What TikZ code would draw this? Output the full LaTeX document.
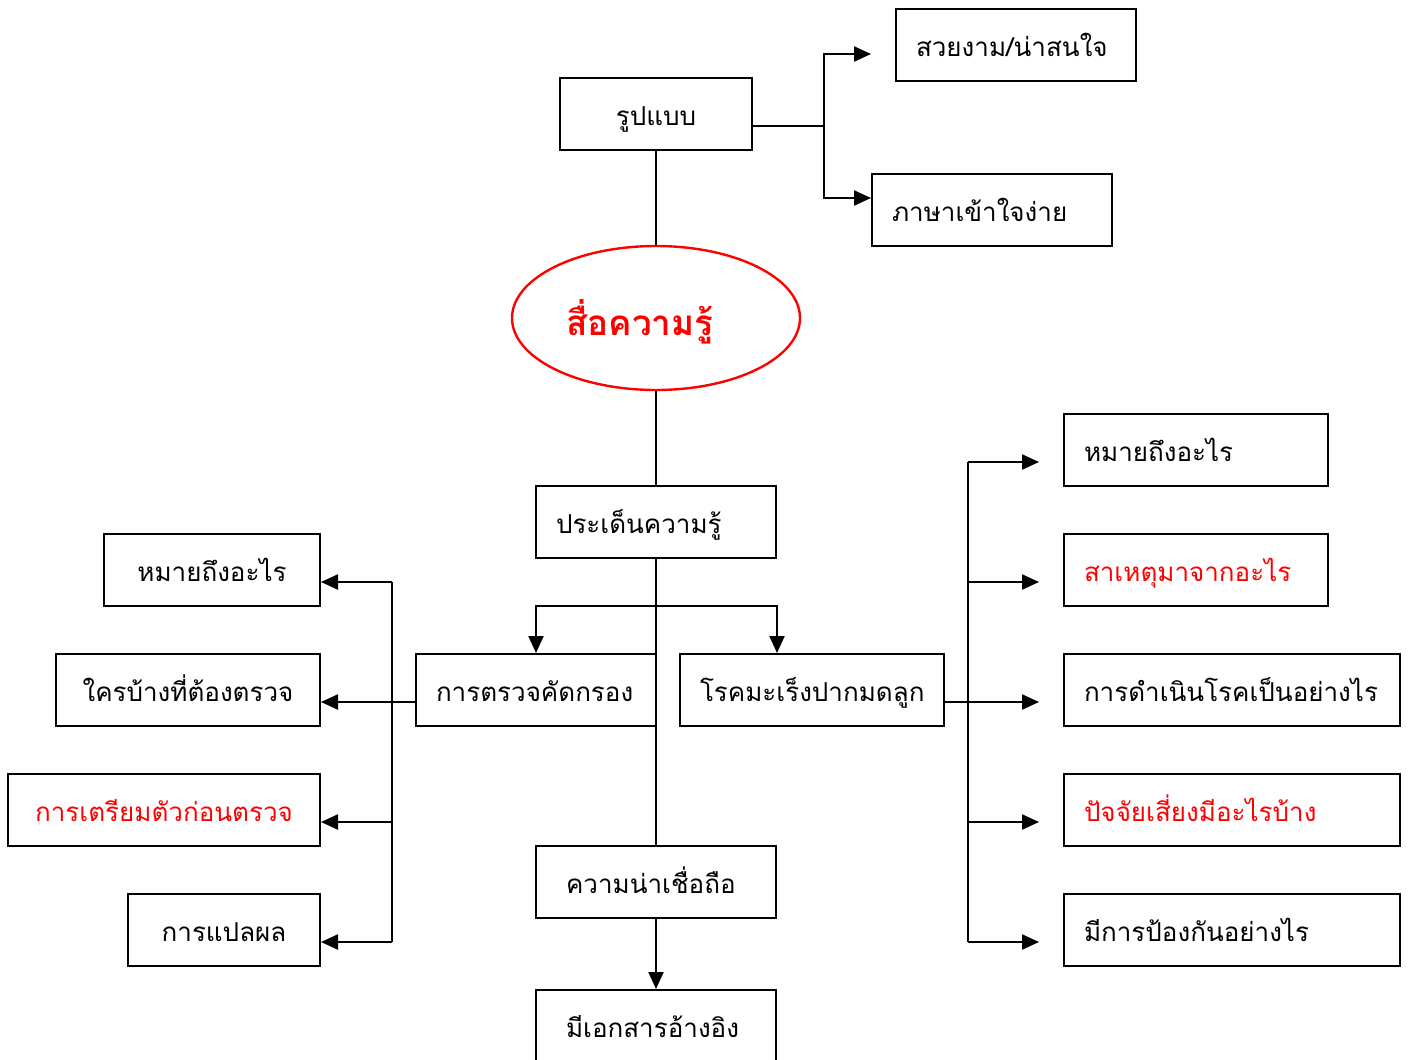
\documentclass[tikz,border=0pt]{standalone}
\usepackage{fontspec}
\newfontfamily\thai[Script=Thai]{Loma}
\usetikzlibrary{arrows.meta,shapes.geometric,calc}
\definecolor{tred}{RGB}{255,0,0}
\begin{document}
\begin{tikzpicture}[x=0.5pt,y=-0.5pt,
  box/.style={draw, line width=1pt, minimum height=36pt, inner ysep=0pt, text height=12pt, text depth=1pt, font=\thai\fontsize{13pt}{15pt}\selectfont},
  lbox/.style 2 args={box, text width=#1, inner xsep=#2, align=left},
  cbox/.style={box, align=center, inner xsep=0pt},
  conn/.style={line width=1.1pt},
  arr/.style={line width=1.1pt, -{Triangle[length=8.5pt,width=7.5pt]}}]
\useasboundingbox (0,0) rectangle (1408,1060);
% top
\node[cbox, minimum width=96pt] (rb) at (656,114) {รูปแบบ};
\node[lbox={100pt}{10pt}] (sv) at (1016,45) {สวยงาม/น่าสนใจ};
\node[lbox={100pt}{10pt}] (ps) at (992,210) {ภาษาเข้าใจง่าย};
\node[draw=tred, line width=1.2pt, ellipse, minimum width=144pt, minimum height=72pt, inner sep=0pt] (ell) at (656,318) {};
\node[font=\thai\bfseries\fontsize{17.5pt}{20pt}\selectfont, text=tred] (title) at (640,322) {สื่อความรู้};
\node[lbox={100pt}{10pt}] (pd) at (656,522) {ประเด็นความรู้};
\node[lbox={100pt}{10pt}] (kt) at (536,690) {การตรวจคัดกรอง};
\node[lbox={112pt}{10pt}] (rk) at (812,690) {โรคมะเร็งปากมดลูก};
\node[lbox={90pt}{15pt}] (kn) at (656,882) {ความน่าเชื่อถือ};
\node[lbox={90pt}{15pt}] (ref) at (656,1026) {มีเอกสารอ้างอิง};
% left
\node[cbox, minimum width=108pt] (l1) at (212,570) {หมายถึงอะไร};
\node[cbox, minimum width=132pt] (l2) at (188,690) {ใครบ้างที่ต้องตรวจ};
\node[cbox, minimum width=156pt, text=tred] (l3) at (164,810) {การเตรียมตัวก่อนตรวจ};
\node[cbox, minimum width=96pt] (l4) at (224,930) {การแปลผล};
% right
\node[lbox={112pt}{10pt}] (r1) at (1196,450) {หมายถึงอะไร};
\node[lbox={112pt}{10pt}, text=tred] (r2) at (1196,570) {สาเหตุมาจากอะไร};
\node[lbox={148pt}{10pt}] (r3) at (1232,690) {การดำเนินโรคเป็นอย่างไร};
\node[lbox={148pt}{10pt}, text=tred] (r4) at (1232,810) {ปัจจัยเสี่ยงมีอะไรบ้าง};
\node[lbox={148pt}{10pt}] (r5) at (1232,930) {มีการป้องกันอย่างไร};
% connectors
\coordinate (j1) at (824,126);
\draw[conn] (rb.east |- j1) -- (j1);
\draw[arr] (j1) |- ([xshift=-12pt,yshift=-4.5pt]sv.west);
\draw[arr] (j1) |- ([yshift=6pt]ps.west);
\draw[conn] (rb.south) -- (ell.north);
\draw[conn] (ell.south) -- (pd.north);
\draw[conn] (pd.south) -- (kn.north);
\coordinate (s1) at (656,606);
\draw[arr] (s1) -| (kt.north);
\draw[arr] (s1) -| (pd.east |- rk.north);
\draw[arr] (kn.south) -- (ref.north);
% left branch
\coordinate (jl) at (392,702);
\draw[conn] ([yshift=-6pt]kt.west) -- (jl);
\draw[conn] ($(jl |- l1.east)+(0,12)$) -- ($(jl |- l4.east)+(0,12)$);
\foreach \n in {l1,l2,l3,l4}
  \draw[arr] ($(jl |- \n.east)+(0,12)$) -- ([yshift=-6pt]\n.east);
% right branch
\coordinate (jr) at (968,702);
\draw[conn] ([yshift=-6pt]rk.east) -- (jr);
\draw[conn] ($(jr |- r1.west)+(0,12)$) -- ($(jr |- r5.west)+(0,12)$);
\foreach \n in {r1,r2,r3,r4,r5}
  \draw[arr] ($(jr |- \n.west)+(0,12)$) -- ([xshift=-12pt,yshift=-6pt]\n.west);
\end{tikzpicture}
\end{document}
